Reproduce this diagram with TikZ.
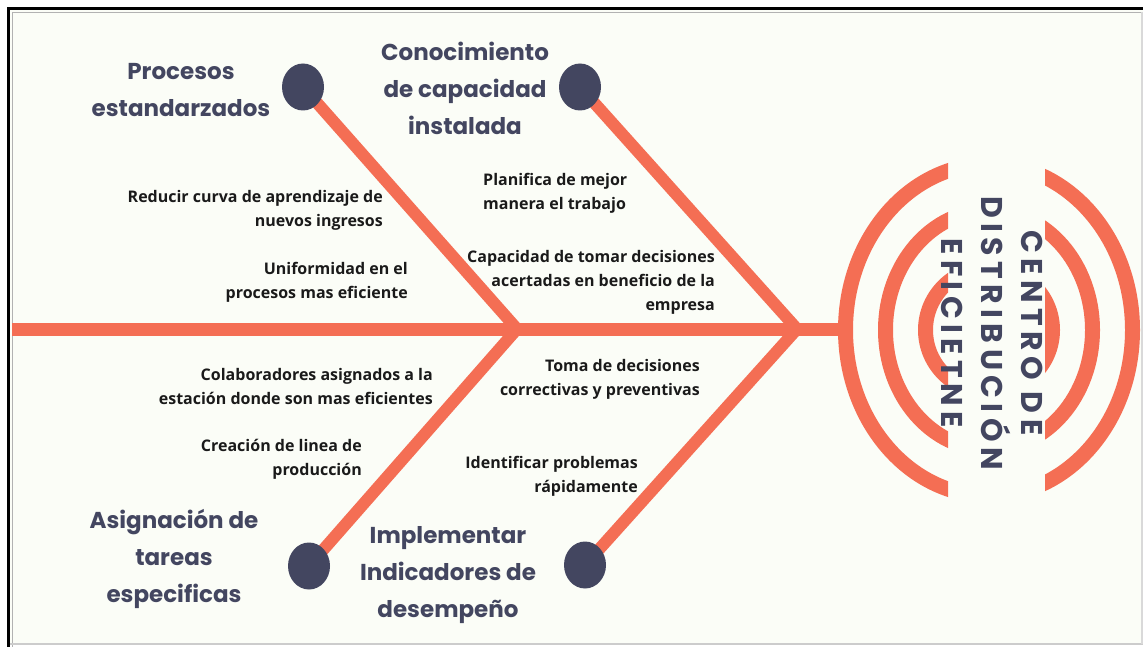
\documentclass[tikz,border=0pt]{standalone}
\usepackage{fontspec}
\setmainfont{Open Sans}
\newfontfamily\titlefont{Poppins}
\newfontfamily\spacedfont[LetterSpace=18]{Poppins}
\usetikzlibrary{shapes.geometric}
\definecolor{bg}{HTML}{FBFDF7}
\definecolor{fishorange}{HTML}{F46E54}
\definecolor{navy}{HTML}{434660}
\definecolor{ink}{HTML}{1A1A1A}
\begin{document}
\begin{tikzpicture}[x=1pt,y=-1pt,
 bone/.style={draw=fishorange, line width=12pt, line join=miter},
 spine/.style={draw=fishorange, line width=13pt},
 dot/.style={ellipse, fill=navy, minimum width=42pt, minimum height=47pt, inner sep=0pt},
 title/.style={font=\titlefont\bfseries\fontsize{23}{37}\selectfont, text=navy, align=center, inner sep=0pt},
 note/.style={font=\bfseries\fontsize{16}{24}\selectfont, text=ink, inner sep=0pt},
 ring/.style={draw=fishorange, line width=15pt}]
\useasboundingbox (0,0) rectangle (1143,647);
% background and frame
\fill[white] (0,0) rectangle (1143,647);
\fill[bg] (10,10) rectangle (1143,644);
\draw[black, line width=3pt] (8.5,647) -- (8.5,8.5) -- (1143,8.5);
\draw[gray!60, line width=1.5pt] (12.5,647) -- (12.5,12.5) -- (1143,12.5);
\draw[gray!40, line width=2pt] (10,643.5) -- (1143,643.5);
\draw[gray!30, line width=2pt] (1142,12) -- (1142,644);
% coordinates
\coordinate (p1) at (303,87);
\coordinate (p2) at (580,87);
\coordinate (p3) at (309,566);
\coordinate (p4) at (585,565);
\coordinate (j1) at (517,329);
\coordinate (j2) at (797,329);
\coordinate (tail) at (12,329);
\coordinate (head) at (850,329);
\coordinate (ctr) at (989,330);
% rings
\begin{scope}
\clip (0,0) rectangle (948,647) (1045,0) rectangle (1143,647);
\draw[ring] (ctr) ellipse [x radius=143.5pt, y radius=166pt];
\draw[ring] (ctr) ellipse [x radius=103.5pt, y radius=119.5pt];
\draw[ring] (ctr) ellipse [x radius=63.5pt, y radius=62.5pt];
\end{scope}
% spine and bones
\draw[spine] (tail) -- (head);
\draw[bone] (p1) -- (j1) -- (p3);
\draw[bone] (p2) -- (j2) -- (p4);
% heads of bones
\node[dot] (c1) at (p1) {};
\node[dot] (c2) at (p2) {};
\node[dot] (c3) at (p3) {};
\node[dot] (c4) at (p4) {};
% titles
\node[title] (t1) at (181,90) {Procesos\\estandarzados};
\node[title] (t2) at (465,88) {Conocimiento\\de capacidad\\instalada};
\node[title] (t3) at (174,559) {Asignación de\\tareas\\especificas};
\node[title] (t4) at (448,575) {Implementar\\Indicadores de\\desempeño};
% notes
\node[note, anchor=east, align=right] (n1) at (383,210) {Reducir curva de aprendizaje de\\nuevos ingresos};
\node[note, anchor=east, align=right] (n2) at (408,282) {Uniformidad en el\\procesos mas eficiente};
\node[note, anchor=west, align=left] (n3) at (483,193) {Planifica de mejor\\manera el trabajo};
\node[note, anchor=east, align=right] (n4) at (715,282) {Capacidad de tomar decisiones\\acertadas en beneficio de la\\empresa};
\node[note, anchor=east, align=right] (n5) at (433,386) {Colaboradores asignados a la\\estación donde son mas eficientes};
\node[note, anchor=east, align=right] (n6) at (362,459) {Creación de linea de\\producción};
\node[note, anchor=east, align=right] (n7) at (700,379) {Toma de decisiones\\correctivas y preventivas};
\node[note, anchor=east, align=right] (n8) at (638,476) {Identificar problemas\\rápidamente};
% hub text
\node[rotate=-90, font=\spacedfont\bfseries\fontsize{30}{40}\selectfont, text=navy, align=center, inner sep=0pt] (hub) at (992,333) {CENTRO DE\\DISTRIBUCIÓN\\EFICIETNE};
\end{tikzpicture}
\end{document}
